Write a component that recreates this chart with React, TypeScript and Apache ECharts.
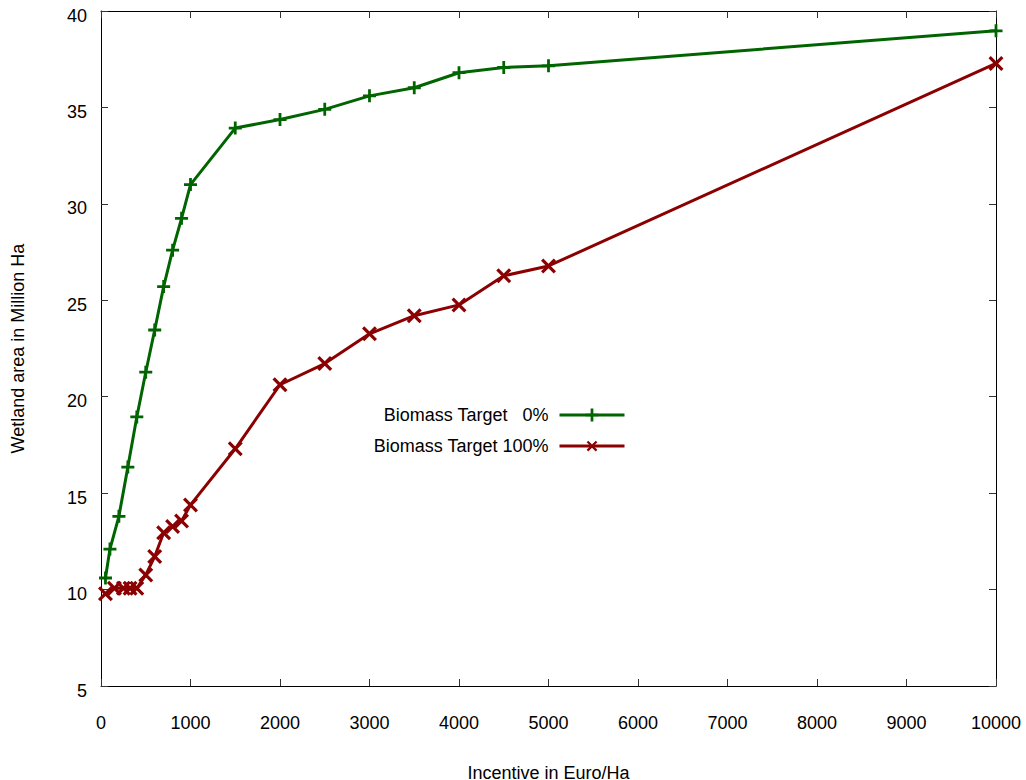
import React, { useEffect, useRef } from "react";
import * as echarts from "echarts";

const incentive0 = [50, 100, 200, 300, 400, 500, 600, 700, 800, 900, 1000, 1500, 2000, 2500, 3000, 3500, 4000, 4500, 5000, 10000];
const area0 = [10.6, 12.1, 13.8, 16.35, 18.95, 21.27, 23.46, 25.71, 27.6, 29.25, 31.0, 33.93, 34.37, 34.9, 35.6, 36.02, 36.8, 37.07, 37.16, 38.97];

const incentive100 = [50, 150, 250, 325, 400, 500, 600, 700, 800, 900, 1000, 1500, 2000, 2500, 3000, 3500, 4000, 4500, 5000, 10000];
const area100 = [9.78, 10.07, 10.07, 10.07, 10.07, 10.76, 11.71, 12.95, 13.27, 13.56, 14.39, 17.3, 20.62, 21.72, 23.26, 24.2, 24.76, 26.27, 26.78, 37.28];

const seriesNames = ["Biomass Target   0%", "Biomass Target 100%"];
const xTicks = { min: 0, max: 10000, interval: 1000 };
const yTicks = { min: 5, max: 40, interval: 5 };

const GREEN = "#006400";
const RED = "#8b0000";
const FONT = "'Liberation Sans', Arial, sans-serif";
const FS = 18;

const PLUS = "path://M5.5,0H8.5V5.5H14V8.5H8.5V14H5.5V8.5H0V5.5H5.5Z";
const CROSS = "path://M7.4,0H10.6V7.4H18V10.6H10.6V18H7.4V10.6H0V7.4H7.4Z";

export default function App() {
  const ref = useRef<HTMLDivElement>(null);
  useEffect(() => {
    if (!ref.current) return;
    const chart = echarts.init(ref.current, undefined, { renderer: "svg", width: 1026, height: 780 });
    const axisCommon = {
      axisLine: { show: true, onZero: false, lineStyle: { color: "#000", width: 1 } },
      axisTick: { show: true, inside: true, length: 7, lineStyle: { color: "#333", width: 1 } },
      splitLine: { show: false },
    };
    const legendCommon = {
      right: 395,
      align: "right",
      itemWidth: 65,
      itemHeight: 16,
      lineStyle: { width: 3 },
      textStyle: { fontFamily: FONT, fontSize: FS, color: "#000", padding: [0, 6, 0, 0] },
      selectedMode: false,
    };
    chart.setOption({
      animation: false,
      backgroundColor: "#fff",
      textStyle: { fontFamily: FONT },
      grid: { left: 101, right: 30, top: 11, bottom: 94, containLabel: false, outerBoundsMode: "none" },
      legend: [
        { ...legendCommon, data: [seriesNames[0]], top: 401 },
        { ...legendCommon, data: [seriesNames[1]], top: 432 },
      ],
      xAxis: [
        {
          type: "value",
          position: "bottom",
          ...xTicks,
          ...axisCommon,
          name: "Incentive in Euro/Ha",
          nameLocation: "middle",
          nameGap: 78,
          nameTextStyle: { fontFamily: FONT, fontSize: FS, color: "#000" },
          axisLabel: {
            fontFamily: FONT,
            fontSize: FS,
            color: "#000",
            margin: 28,
            formatter: (v: number) => String(v),
          },
        },
        {
          type: "value",
          position: "top",
          ...xTicks,
          ...axisCommon,
          axisLabel: { show: false },
        },
      ],
      yAxis: [
        {
          type: "value",
          position: "left",
          ...yTicks,
          ...axisCommon,
          name: "Wetland area in Million Ha",
          nameLocation: "middle",
          nameGap: 74,
          nameTextStyle: { fontFamily: FONT, fontSize: FS, color: "#000" },
          axisLabel: {
            margin: 14,
            formatter: "{a|{value}}",
            rich: {
              a: { fontFamily: FONT, fontSize: FS, color: "#000", padding: [9, 0, 0, 0] },
            },
          },
        },
        {
          type: "value",
          position: "right",
          ...yTicks,
          ...axisCommon,
          axisLabel: { show: false },
        },
      ],
      series: [
        {
          name: seriesNames[0],
          type: "line",
          data: incentive0.map((x, i) => [x, area0[i]]),
          color: GREEN,
          lineStyle: { color: GREEN, width: 3 },
          itemStyle: { color: GREEN },
          symbol: PLUS,
          symbolSize: 13,
          showAllSymbol: true,
          clip: false,
        },
        {
          name: seriesNames[1],
          type: "line",
          data: incentive100.map((x, i) => [x, area100[i]]),
          color: RED,
          lineStyle: { color: RED, width: 3 },
          itemStyle: { color: RED },
          symbol: CROSS,
          symbolSize: 18,
          symbolRotate: 45,
          showAllSymbol: true,
          clip: false,
        },
      ],
    });
    return () => chart.dispose();
  }, []);
  return (
    <div
      ref={ref}
      style={{ position: "absolute", left: 0, top: 0, width: 1026, height: 780 }}
    />
  );
}
